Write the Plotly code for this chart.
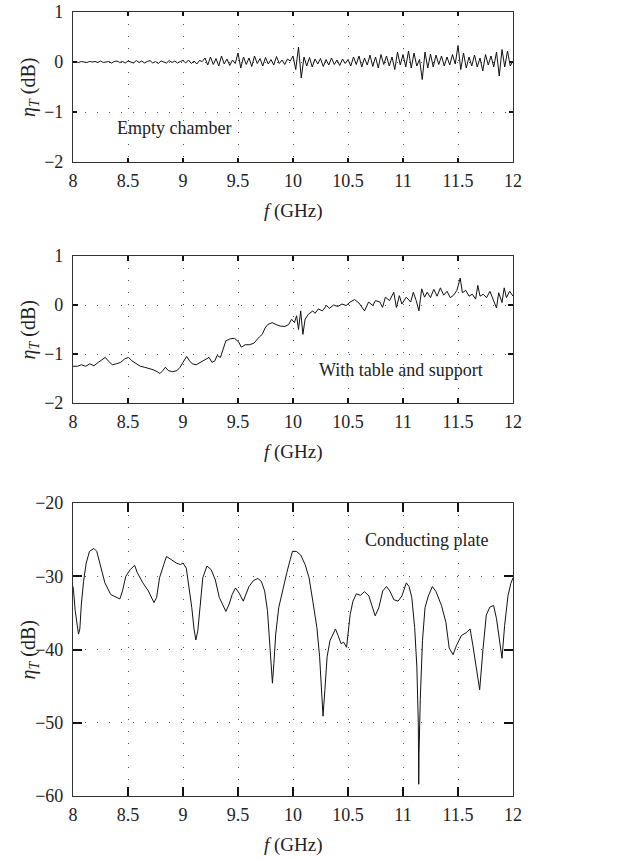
import plotly.graph_objects as go
from plotly.subplots import make_subplots

# --- data ---
# panel 1: empty chamber, uniform sweep 8..12 GHz in 0.025 GHz steps
f_empty = [
    8.0, 8.025, 8.05, 8.075, 8.1, 8.125, 8.15, 8.175,
    8.2, 8.225, 8.25, 8.275, 8.3, 8.325, 8.35, 8.375,
    8.4, 8.425, 8.45, 8.475, 8.5, 8.525, 8.55, 8.575,
    8.6, 8.625, 8.65, 8.675, 8.7, 8.725, 8.75, 8.775,
    8.8, 8.825, 8.85, 8.875, 8.9, 8.925, 8.95, 8.975,
    9.0, 9.025, 9.05, 9.075, 9.1, 9.125, 9.15, 9.175,
    9.2, 9.225, 9.25, 9.275, 9.3, 9.325, 9.35, 9.375,
    9.4, 9.425, 9.45, 9.475, 9.5, 9.525, 9.55, 9.575,
    9.6, 9.625, 9.65, 9.675, 9.7, 9.725, 9.75, 9.775,
    9.8, 9.825, 9.85, 9.875, 9.9, 9.925, 9.95, 9.975,
    10.0, 10.025, 10.05, 10.075, 10.1, 10.125, 10.15, 10.175,
    10.2, 10.225, 10.25, 10.275, 10.3, 10.325, 10.35, 10.375,
    10.4, 10.425, 10.45, 10.475, 10.5, 10.525, 10.55, 10.575,
    10.6, 10.625, 10.65, 10.675, 10.7, 10.725, 10.75, 10.775,
    10.8, 10.825, 10.85, 10.875, 10.9, 10.925, 10.95, 10.975,
    11.0, 11.025, 11.05, 11.075, 11.1, 11.125, 11.15, 11.175,
    11.2, 11.225, 11.25, 11.275, 11.3, 11.325, 11.35, 11.375,
    11.4, 11.425, 11.45, 11.475, 11.5, 11.525, 11.55, 11.575,
    11.6, 11.625, 11.65, 11.675, 11.7, 11.725, 11.75, 11.775,
    11.8, 11.825, 11.85, 11.875, 11.9, 11.925, 11.95, 11.975,
    12.0,
]
eta_empty = [
    0, 0.01, -0.01, 0.01, 0, -0.01, 0.01, 0, 0.01, -0.01,
    0.02, -0.01, 0, 0.01, -0.02, 0.01, 0.02, -0.01, 0.01, -0.02,
    0.02, 0, -0.02, 0.03, -0.01, 0.02, -0.02, 0.01, 0.03, -0.02,
    0.01, -0.03, 0.02, 0, -0.02, 0.03, -0.01, 0.02, -0.02, 0.01,
    0.03, -0.02, 0.04, -0.03, 0.02, -0.04, 0.03, 0.01, 0.08, -0.06,
    0.10, -0.05, 0.07, -0.08, 0.12, -0.04, 0.06, -0.07, 0.04, -0.03,
    0.18, -0.12, 0.10, -0.05, 0.08, -0.09, 0.12, -0.03, 0.07, -0.08,
    0.09, -0.04, 0.05, -0.06, 0.11, -0.03, 0.04, -0.05, 0.06, 0.02,
    0.12, -0.15, 0.30, -0.32, 0.10, -0.08, 0.09, -0.10, 0.06, -0.04,
    0.07, -0.09, 0.05, -0.06, 0.08, -0.05, 0.04, -0.07, 0.06, -0.03,
    0.05, -0.08, 0.10, -0.05, 0.12, -0.10, 0.08, -0.06, 0.14, -0.09,
    0.10, -0.12, 0.15, -0.05, 0.12, -0.08, 0.10, -0.15, 0.20, -0.06,
    0.15, -0.10, 0.22, -0.12, 0.18, -0.08, 0.05, -0.35, 0.20, -0.12,
    0.16, -0.10, 0.14, -0.05, 0.12, -0.08, 0.10, -0.06, 0.15, -0.04,
    0.33, -0.15, 0.18, -0.12, 0.10, -0.08, 0.14, -0.10, 0.08, -0.18,
    0.15, -0.06, 0.12, -0.10, 0.20, -0.28, 0.25, -0.10, 0.22, -0.08, 0.02,
]

# panel 2: with table and support
f_table = [
    8.0, 8.04, 8.077, 8.115, 8.153, 8.19, 8.23, 8.268, 8.293, 8.32,
    8.357, 8.395, 8.434, 8.47, 8.505, 8.536, 8.574, 8.612, 8.65, 8.69,
    8.727, 8.765, 8.79, 8.816, 8.84, 8.867, 8.906, 8.944, 8.974, 9.0,
    9.033, 9.06, 9.084, 9.12, 9.16, 9.2, 9.237, 9.263, 9.29, 9.31,
    9.34, 9.365, 9.39, 9.43, 9.467, 9.505, 9.53, 9.567, 9.605, 9.644,
    9.67, 9.695, 9.72, 9.746, 9.77, 9.81, 9.847, 9.885, 9.924, 9.96,
    9.987, 10.013, 10.033, 10.05, 10.07, 10.09, 10.11, 10.14, 10.18, 10.2,
    10.23, 10.267, 10.305, 10.33, 10.37, 10.407, 10.445, 10.483, 10.52, 10.56,
    10.6, 10.65, 10.687, 10.725, 10.75, 10.79, 10.814, 10.84, 10.878, 10.916,
    10.94, 10.967, 10.99, 11.03, 11.07, 11.094, 11.12, 11.145, 11.17, 11.196,
    11.22, 11.25, 11.28, 11.31, 11.34, 11.37, 11.4, 11.43, 11.46, 11.49,
    11.52, 11.54, 11.57, 11.6, 11.63, 11.66, 11.68, 11.7, 11.73, 11.76,
    11.79, 11.82, 11.85, 11.87, 11.9, 11.92, 11.94, 11.97, 12.0,
]
eta_table = [
    -1.25, -1.25, -1.22, -1.25, -1.20, -1.24, -1.17, -1.10, -1.07, -1.14,
    -1.22, -1.20, -1.17, -1.10, -1.07, -1.14, -1.20, -1.25, -1.27, -1.29,
    -1.32, -1.36, -1.40, -1.34, -1.27, -1.34, -1.36, -1.34, -1.27, -1.17,
    -1.05, -1.14, -1.20, -1.22, -1.17, -1.12, -1.07, -1.17, -1.14, -1.03,
    -1.07, -0.90, -0.73, -0.69, -0.68, -0.75, -0.86, -0.81, -0.81, -0.78,
    -0.71, -0.65, -0.60, -0.47, -0.40, -0.36, -0.40, -0.43, -0.44, -0.40,
    -0.29, -0.36, -0.22, -0.50, -0.12, -0.60, -0.29, -0.19, -0.12, -0.17,
    -0.08, -0.12, -0.01, -0.07, 0.0, -0.03, 0.02, -0.01, 0.06, 0.11,
    0.04, -0.12, 0.06, -0.01, 0.09, 0.06, -0.05, 0.16, 0.09, 0.26,
    -0.05, 0.19, 0.02, 0.16, 0.06, 0.26, 0.09, -0.12, 0.33, 0.16,
    0.26, 0.15, 0.32, 0.18, 0.35, 0.20, 0.28, 0.15, 0.20, 0.30,
    0.55, 0.25, 0.30, 0.18, 0.22, 0.12, 0.40, 0.18, 0.22, 0.15,
    0.28, 0.10, -0.06, 0.25, 0.05, 0.35, 0.15, 0.28, 0.18,
]

# panel 3: conducting plate
f_plate = [
    8.0, 8.005, 8.02, 8.05, 8.062, 8.076, 8.096, 8.12, 8.15, 8.19,
    8.216, 8.254, 8.29, 8.343, 8.38, 8.426, 8.45, 8.48, 8.52, 8.56,
    8.584, 8.635, 8.685, 8.736, 8.76, 8.787, 8.825, 8.85, 8.89, 8.94,
    8.977, 9.0, 9.03, 9.053, 9.08, 9.1, 9.117, 9.135, 9.155, 9.18,
    9.218, 9.256, 9.294, 9.33, 9.39, 9.42, 9.447, 9.477, 9.51, 9.548,
    9.566, 9.6, 9.64, 9.68, 9.712, 9.742, 9.768, 9.785, 9.8, 9.813,
    9.826, 9.843, 9.87, 9.907, 9.944, 9.975, 9.995, 10.03, 10.07, 10.11,
    10.146, 10.18, 10.217, 10.242, 10.26, 10.273, 10.29, 10.31, 10.336, 10.36,
    10.386, 10.41, 10.437, 10.46, 10.487, 10.5, 10.52, 10.545, 10.576, 10.613,
    10.65, 10.69, 10.72, 10.747, 10.78, 10.816, 10.85, 10.88, 10.917, 10.955,
    10.99, 11.03, 11.055, 11.08, 11.106, 11.126, 11.139, 11.143, 11.146, 11.157,
    11.177, 11.2, 11.23, 11.267, 11.3, 11.35, 11.39, 11.42, 11.455, 11.485,
    11.53, 11.575, 11.61, 11.636, 11.665, 11.697, 11.727, 11.757, 11.79, 11.824,
    11.85, 11.88, 11.9, 11.924, 11.955, 11.98, 12.0,
]
eta_plate = [
    -31.4, -32.0, -34.7, -37.9, -37.2, -33.8, -30.7, -28.2, -26.6, -26.2,
    -26.6, -28.9, -30.9, -32.5, -32.8, -33.1, -32.0, -30.0, -29.1, -28.5,
    -29.5, -30.9, -32.0, -33.6, -32.9, -30.2, -28.4, -27.3, -27.7, -28.2,
    -28.4, -28.2, -28.9, -31.1, -34.3, -37.2, -38.7, -37.4, -33.8, -30.2,
    -28.6, -29.1, -30.5, -32.9, -34.8, -33.8, -32.5, -31.6, -32.3, -33.4,
    -32.7, -31.4, -30.6, -30.3, -30.7, -32.0, -34.7, -38.8, -41.9, -44.6,
    -41.9, -37.9, -34.3, -31.8, -29.5, -27.7, -26.6, -26.6, -27.1, -28.4,
    -30.2, -33.4, -37.0, -41.0, -46.4, -49.1, -45.5, -41.0, -38.8, -37.9,
    -37.2, -38.1, -39.2, -39.0, -39.7, -37.9, -35.2, -33.4, -32.4, -32.6,
    -32.1, -32.7, -34.3, -35.4, -34.3, -32.0, -31.4, -32.0, -33.2, -33.4,
    -32.7, -30.9, -31.4, -32.9, -37.0, -42.4, -50.0, -58.4, -54.1, -46.8,
    -38.8, -34.3, -32.7, -31.4, -32.1, -34.0, -36.3, -39.8, -40.7, -39.5,
    -38.1, -37.7, -37.2, -39.5, -42.5, -45.5, -40.0, -35.3, -34.2, -34.0,
    -35.8, -39.5, -41.2, -36.7, -32.6, -31.0, -30.2,
]

panel_labels = ["Empty chamber", "With table and support", "Conducting plate"]
x_ticks = [8, 8.5, 9, 9.5, 10, 10.5, 11, 11.5, 12]

FONT = "Liberation Serif, DejaVu Serif, serif"
W, H = 625, 861


def px(xp):
    return xp / W


def py(yp):
    return 1 - yp / H


fig = make_subplots(rows=3, cols=1)

series = [(f_empty, eta_empty), (f_table, eta_table), (f_plate, eta_plate)]
for i, (f, eta) in enumerate(series, start=1):
    fig.add_trace(go.Scatter(x=f, y=eta, mode="lines",
                             line=dict(color="#111111", width=1),
                             showlegend=False), row=i, col=1)

# pixel boxes of the three axes (top, bottom) in the 625x861 picture
boxes = [(12, 162), (256, 403), (503, 796)]
y_ranges = [[-2, 1], [-2, 1], [-60, -20]]
y_dticks = [1, 1, 10]
tick_len = [4, 5, 9]

txt = dict(family=FONT, color="#222222")

for i, ((top, bot), yr, dt, tl) in enumerate(zip(boxes, y_ranges, y_dticks, tick_len), start=1):
    common = dict(showline=True, linecolor="#333333", linewidth=1.2, mirror="allticks",
                  ticks="inside", ticklen=tl, tickwidth=2, tickcolor="#111111",
                  showgrid=True, gridcolor="#555555", gridwidth=1, griddash="1px,11px",
                  zeroline=False, automargin=False,
                  tickfont=dict(size=18, **txt))
    fig.update_xaxes(domain=[px(73), px(513)], range=[8, 12], tickvals=x_ticks,
                     ticktext=[str(v) for v in x_ticks], ticklabelstandoff=2,
                     row=i, col=1, **common)
    fig.update_yaxes(domain=[py(bot), py(top)], range=yr, dtick=dt, tick0=yr[0],
                     ticklabelstandoff=5, row=i, col=1, **common)

    # axis titles
    fig.add_annotation(x=px(293), y=py(bot + 49), xref="paper", yref="paper",
                       xanchor="center", yanchor="middle",
                       text="<i>f</i> (GHz)", showarrow=False, font=dict(size=19, **txt))
    fig.add_annotation(x=px(29), y=py((top + bot) / 2), xref="paper", yref="paper",
                       xanchor="center", yanchor="middle",
                       text="<i>η</i><sub><i>T</i></sub> (dB)", textangle=-90,
                       showarrow=False, font=dict(size=20, **txt))

# panel labels
fig.add_annotation(x=px(115), y=py(128), xref="paper", yref="paper",
                   xanchor="left", yanchor="middle",
                   text=panel_labels[0], showarrow=False, font=dict(size=18, **txt))
fig.add_annotation(x=px(485), y=py(370), xref="paper", yref="paper",
                   xanchor="right", yanchor="middle",
                   text=panel_labels[1], showarrow=False, font=dict(size=18, **txt))
fig.add_annotation(x=px(490), y=py(540), xref="paper", yref="paper",
                   xanchor="right", yanchor="middle",
                   text=panel_labels[2], showarrow=False, font=dict(size=18, **txt))

fig.update_layout(width=W, height=H, margin=dict(l=0, r=0, t=0, b=0),
                  paper_bgcolor="white", plot_bgcolor="white", showlegend=False)

# drop the default body margin so the 625x861 figure fills the window exactly
fig.write_html("out.html", config={"displayModeBar": False},
               post_script="document.body.style.margin = '0';")
